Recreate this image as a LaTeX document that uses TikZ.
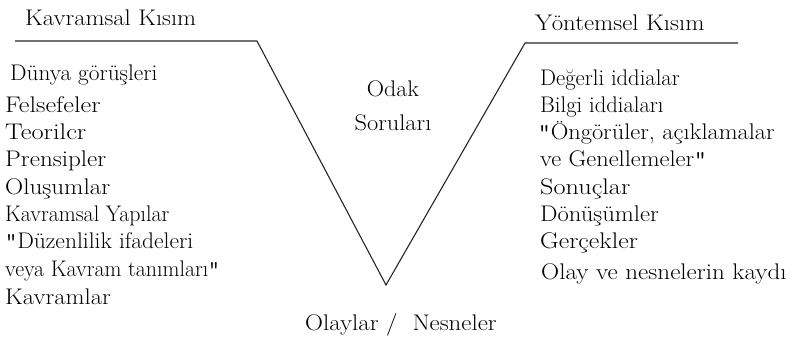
\documentclass[tikz,border=0pt]{standalone}
\usepackage{graphicx}
\usepackage{fontspec}
\newcommand{\wtxt}[2][1]{\scalebox{#1}[1]{#2}}
\newcommand{\dqmark}{{\ttfamily\addfontfeatures{FakeBold=0.35}"}}
\begin{document}
\begin{tikzpicture}[x=1pt,y=-1pt,
  lbl/.style={anchor=base west, inner sep=0pt, font=\rmfamily\fontsize{22.6}{27}\selectfont\addfontfeatures{FakeBold=0.35}, text=black},
  mid/.style={anchor=base, inner sep=0pt, font=\rmfamily\fontsize{22.6}{27}\selectfont\addfontfeatures{FakeBold=0.35}, text=black},
  vline/.style={draw=black!85, line width=1.1pt}]
\useasboundingbox (0,0) rectangle (794,343);
\coordinate (l0) at (15,41);
\coordinate (l1) at (257,41);
\coordinate (v) at (386,285);
\coordinate (r0) at (525,43);
\coordinate (r1) at (738,43);
\draw[vline] (l0) -- (l1) -- (v) -- (r0) -- (r1);
% left
\node[lbl] (kt) at (25,25) {\wtxt[1.09]{Kavramsal Kısım}};
\node[lbl] (k1) at (10,80) {\wtxt[1.03]{Dünya görüşleri}};
\node[lbl] (k2) at (5,112) {\wtxt[1.16]{Felsefeler}};
\node[lbl] (k3) at (5,139) {\wtxt[1.17]{Teorilcr}};
\node[lbl] (k4) at (5,166) {\wtxt[1.11]{Prensipler}};
\node[lbl] (k5) at (5,194) {\wtxt[1.11]{Oluşumlar}};
\node[lbl] (k6) at (5,221) {\wtxt[0.97]{Kavramsal Yapılar}};
\node[lbl] (k7) at (5,248) {\wtxt[1.04]{\dqmark Düzenlilik ifadeleri}};
\node[lbl] (k8) at (5,276) {\wtxt[0.97]{veya Kavram tanımları\dqmark}};
\node[lbl] (k9) at (5,304) {\wtxt[1.09]{Kavramlar}};
% centre
\node[mid] (o1) at (393,96) {\wtxt[1.06]{Odak}};
\node[mid] (o2) at (393,130) {\wtxt[1.08]{Soruları}};
\node[lbl] (on) at (305,330) {\wtxt[1.10]{Olaylar /\ \ Nesneler}};
% right
\node[lbl] (yt) at (535,30) {\wtxt[1.10]{Yöntemsel Kısım}};
\node[lbl] (y1) at (540,85) {\wtxt{Değerli iddialar}};
\node[lbl] (y2) at (540,112) {\wtxt{Bilgi iddiaları}};
\node[lbl] (y3) at (538,139) {\wtxt[1.08]{\dqmark Öngörüler, açıklamalar}};
\node[lbl] (y4) at (540,166) {\wtxt[1.08]{ve Genellemeler\dqmark}};
\node[lbl] (y5) at (540,194) {\wtxt[1.16]{Sonuçlar}};
\node[lbl] (y6) at (540,221) {\wtxt[1.09]{Dönüşümler}};
\node[lbl] (y7) at (540,248) {\wtxt[1.14]{Gerçekler}};
\node[lbl] (y8) at (541,279) {\wtxt[1.11]{Olay ve nesnelerin kaydı}};
\end{tikzpicture}
\end{document}
